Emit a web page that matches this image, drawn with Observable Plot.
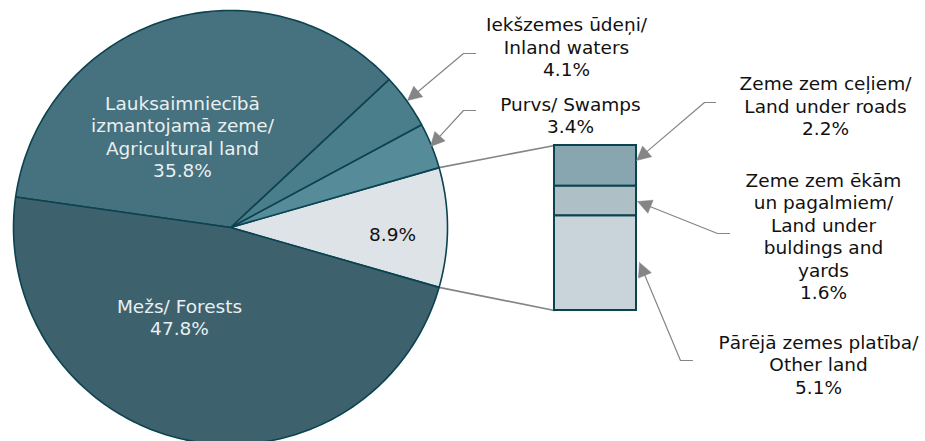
<!DOCTYPE html>
<html>
<head>
<meta charset="utf-8">
<script src="https://cdn.jsdelivr.net/npm/d3@7"></script>
<script src="https://cdn.jsdelivr.net/npm/@observablehq/plot@0.6"></script>
<style>
html,body{margin:0;padding:0;background:#fff;}
#chart{width:925px;height:441px;}
</style>
</head>
<body>
<div id="chart"></div>
<script>
// ---- data ----
const pieKeys = ["other", "swamps", "inland", "agri", "forests"];
const pieValues = [8.9, 3.4, 4.1, 35.8, 47.8];
const pieLabels = [
  "8.9%",
  "Purvs/ Swamps\n3.4%",
  "Iekšzemes ūdeņi/\nInland waters\n4.1%",
  "Lauksaimniecībā\nizmantojamā zeme/\nAgricultural land\n35.8%",
  "Mežs/ Forests\n47.8%"
];
const pieColors = ["#dee3e7", "#568c99", "#4b7e8b", "#46717e", "#3d616d"];

const barKeys = ["roads", "buildings", "rest"];
const barValues = [2.2, 1.6, 5.1];
const barLabels = [
  "Zeme zem ceļiem/\nLand under roads\n2.2%",
  "Zeme zem ēkām\nun pagalmiem/\nLand under\nbuldings and\nyards\n1.6%",
  "Pārējā zemes platība/\nOther land\n5.1%"
];
const barColors = ["#88a6af", "#aec0c6", "#c8d4d9"];

// ---- layout ----
const W = 925, H = 441;
const cx = 230, cy = 227, R = 217;
const barX1 = 554, barX2 = 636, barTop = 145, barBottom = 310;
const edge = "#0b4350";
const grey = "#858585";
const FS = 18.5, LH = 22.5 / 18.5;

// pie polygons
const total = d3.sum(pieValues);
const startDeg = -pieValues[0] / total * 360 / 2;
const slices = [];
let acc = startDeg;
const bounds = [];
pieValues.forEach((v, i) => {
  const a0 = acc, a1 = acc + v / total * 360;
  bounds.push([a0, a1]);
  slices.push({key: pieKeys[i], x: cx, y: cy});
  const n = Math.max(2, Math.ceil((a1 - a0) / 1));
  for (let k = 0; k <= n; k++) {
    const a = (a0 + (a1 - a0) * k / n) * Math.PI / 180;
    slices.push({key: pieKeys[i], x: cx + R * Math.cos(a), y: cy - R * Math.sin(a)});
  }
  slices.push({key: pieKeys[i], x: cx, y: cy});
  acc = a1;
});
const pt = (deg) => [cx + R * Math.cos(deg * Math.PI / 180), cy - R * Math.sin(deg * Math.PI / 180)];

// bar rects
const barTotal = d3.sum(barValues);
let cum = 0;
const barRects = barValues.map((v, i) => {
  const y1 = barTop + (barBottom - barTop) * cum / barTotal;
  cum += v;
  const y2 = barTop + (barBottom - barTop) * cum / barTotal;
  return {key: barKeys[i], x1: barX1, x2: barX2, y1, y2};
});

// connector lines
const [ox0, oy0] = pt(bounds[0][1]);
const [ox1, oy1] = pt(bounds[0][0]);
const connectors = [
  {id: 0, x: ox0, y: oy0}, {id: 0, x: barX1, y: barTop},
  {id: 1, x: ox1, y: oy1}, {id: 1, x: barX1, y: barBottom}
];

// leader polylines (label -> arrow tip)
const leaders = [
  [[475, 53], [463, 53], [407, 100]],
  [[475, 110], [463, 110], [430, 146]],
  [[715, 102], [704, 102], [636, 160]],
  [[729, 233], [717, 233], [637, 201]],
  [[692, 360], [680, 360], [639, 262]]
];
const leaderPts = [], arrowPts = [];
leaders.forEach((pts, i) => {
  const tip = pts[pts.length - 1], prev = pts[pts.length - 2];
  const dx = tip[0] - prev[0], dy = tip[1] - prev[1];
  const L = Math.hypot(dx, dy), ux = dx / L, uy = dy / L;
  const hl = 14, hw = 7;
  const bx = tip[0] - ux * hl, by = tip[1] - uy * hl;
  pts.slice(0, -1).forEach(p => leaderPts.push({id: i, x: p[0], y: p[1]}));
  leaderPts.push({id: i, x: bx, y: by});
  arrowPts.push({id: i, x: tip[0], y: tip[1]});
  arrowPts.push({id: i, x: bx - uy * hw, y: by + ux * hw});
  arrowPts.push({id: i, x: bx + uy * hw, y: by - ux * hw});
  arrowPts.push({id: i, x: tip[0], y: tip[1]});
});

// text placement
const pieText = [
  {t: pieLabels[0], x: 392, y: 233, c: "#111"},
  {t: pieLabels[1], x: 570, y: 114.5, c: "#111"},
  {t: pieLabels[2], x: 566, y: 46, c: "#111"},
  {t: pieLabels[3], x: 182, y: 136, c: "#e9eff1"},
  {t: pieLabels[4], x: 179, y: 316.5, c: "#e9eff1"}
];
const barText = [
  {t: barLabels[0], x: 825, y: 105},
  {t: barLabels[1], x: 823, y: 235.5},
  {t: barLabels[2], x: 818, y: 363.5}
];

const chart = Plot.plot({
  width: W, height: H,
  margin: 0,
  x: {domain: [0, W], range: [0, W], axis: null},
  y: {domain: [0, H], range: [0, H], axis: null},
  color: {domain: pieKeys.concat(barKeys), range: pieColors.concat(barColors)},
  style: {fontFamily: "Verdana, 'DejaVu Sans', sans-serif", background: "#fff"},
  marks: [
    Plot.line(connectors, {x: "x", y: "y", z: "id", stroke: grey, strokeWidth: 1.6}),
    Plot.line(slices, {x: "x", y: "y", z: "key", fill: "key", stroke: edge, strokeWidth: 1.6, strokeLinejoin: "round", curve: "linear"}),
    Plot.rect(barRects, {x1: "x1", x2: "x2", y1: "y1", y2: "y2", fill: "key", stroke: edge, strokeWidth: 2}),
    Plot.line(leaderPts, {x: "x", y: "y", z: "id", stroke: grey, strokeWidth: 1.2}),
    Plot.line(arrowPts, {x: "x", y: "y", z: "id", fill: grey, stroke: grey, strokeWidth: 0.5}),
    Plot.text(pieText, {x: "x", y: "y", text: "t", fill: "c", fontSize: FS, lineHeight: LH, textAnchor: "middle", lineAnchor: "middle", fontFamily: "Verdana, 'DejaVu Sans', sans-serif"}),
    Plot.text(barText, {x: "x", y: "y", text: "t", fill: "#111", fontSize: FS, lineHeight: LH, textAnchor: "middle", lineAnchor: "middle", fontFamily: "Verdana, 'DejaVu Sans', sans-serif"})
  ]
});
document.getElementById("chart").appendChild(chart);
</script>
</body>
</html>
